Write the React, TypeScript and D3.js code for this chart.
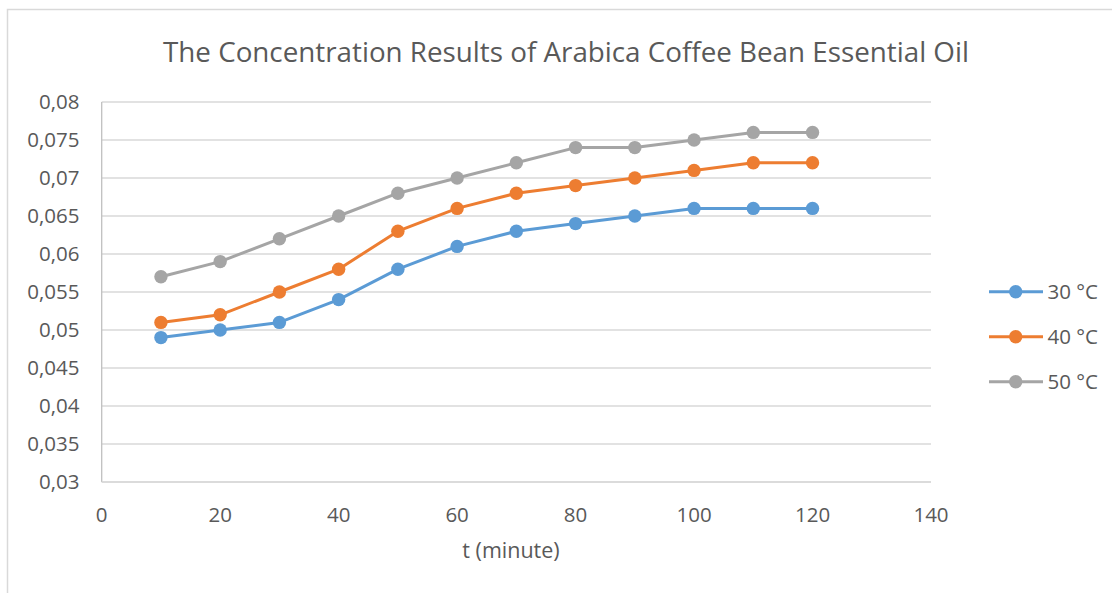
import React from "react";
import * as d3 from "d3";

// Extraction time in minutes
const minutes = [10, 20, 30, 40, 50, 60, 70, 80, 90, 100, 110, 120];

// Concentration per temperature
const conc30 = [0.049, 0.05, 0.051, 0.054, 0.058, 0.061, 0.063, 0.064, 0.065, 0.066, 0.066, 0.066];
const conc40 = [0.051, 0.052, 0.055, 0.058, 0.063, 0.066, 0.068, 0.069, 0.07, 0.071, 0.072, 0.072];
const conc50 = [0.057, 0.059, 0.062, 0.065, 0.068, 0.07, 0.072, 0.074, 0.074, 0.075, 0.076, 0.076];

const seriesNames = ["30 °C", "40 °C", "50 °C"];
const seriesColors = ["#5B9BD5", "#ED7D31", "#A5A5A5"];

const xTicks = [0, 20, 40, 60, 80, 100, 120, 140];
const yTicks = [0.03, 0.035, 0.04, 0.045, 0.05, 0.055, 0.06, 0.065, 0.07, 0.075, 0.08];

const title = "The Concentration Results of Arabica Coffee Bean Essential Oil";
const xTitle = "t (minute)";

const W = 1112;
const H = 593;
const FONT = "'Open Sans', 'DejaVu Sans', sans-serif";
const TEXT = "#595959";

export default function App() {
  const plot = { left: 101.7, right: 931, top: 102, bottom: 482 };
  const x = d3.scaleLinear().domain([0, 140]).range([plot.left, plot.right]);
  const y = d3.scaleLinear().domain([0.03, 0.08]).range([plot.bottom, plot.top]);
  const fmt = (v: number) => String(+v.toFixed(3)).replace(".", ",");

  const series = [conc30, conc40, conc50].map((vals, i) => ({
    name: seriesNames[i],
    color: seriesColors[i],
    points: vals.map((v, j) => [minutes[j], v] as [number, number]),
  }));

  const line = d3
    .line<[number, number]>()
    .x((d) => x(d[0]))
    .y((d) => y(d[1]));

  const legendY = [291.7, 336.7, 381.7];

  return (
    <svg
      width={W}
      height={H}
      style={{ position: "absolute", left: 0, top: 0, background: "#fff" }}
    >
      <rect x={0} y={0} width={W} height={H} fill="#fff" />
      {/* chart frame */}
      <path d={`M7.5,${H + 2} V9.5 H${W + 2}`} fill="none" stroke="#d9d9d9" strokeWidth={1.5} />

      <text
        x={566}
        y={61.5}
        textAnchor="middle"
        fontFamily={FONT}
        fontSize={28}
        fill={TEXT}
        textLength={806}
        lengthAdjust="spacingAndGlyphs"
      >
        {title}
      </text>

      {/* gridlines */}
      {yTicks.map((t) => (
        <line
          key={t}
          x1={plot.left}
          x2={plot.right}
          y1={y(t)}
          y2={y(t)}
          stroke="#d9d9d9"
          strokeWidth={1.3}
        />
      ))}
      {/* value axis line */}
      <line x1={plot.left} x2={plot.left} y1={plot.top} y2={plot.bottom} stroke="#bfbfbf" strokeWidth={1.3} />
      <line x1={plot.left} x2={plot.right} y1={plot.bottom} y2={plot.bottom} stroke="#d9d9d9" strokeWidth={1.3} />

      {/* y tick labels */}
      {yTicks.map((t) => (
        <text
          key={t}
          x={79.5}
          y={y(t)}
          dy="0.36em"
          textAnchor="end"
          fontFamily={FONT}
          fontSize={20.5}
          fill={TEXT}
        >
          {fmt(t)}
        </text>
      ))}

      {/* x tick labels */}
      {xTicks.map((t) => (
        <text
          key={t}
          x={x(t)}
          y={522}
          textAnchor="middle"
          fontFamily={FONT}
          fontSize={20.5}
          fill={TEXT}
        >
          {t}
        </text>
      ))}

      <text x={511} y={558} textAnchor="middle" fontFamily={FONT} fontSize={21.5} fill={TEXT}>
        {xTitle}
      </text>

      {/* series */}
      {series.map((s) => (
        <g key={s.name}>
          <path d={line(s.points) || ""} fill="none" stroke={s.color} strokeWidth={3} strokeLinejoin="round" />
          {s.points.map((p, j) => (
            <circle key={j} cx={x(p[0])} cy={y(p[1])} r={6.7} fill={s.color} />
          ))}
        </g>
      ))}

      {/* legend */}
      {series.map((s, i) => (
        <g key={s.name}>
          <line x1={989} x2={1043} y1={legendY[i]} y2={legendY[i]} stroke={s.color} strokeWidth={3} />
          <circle cx={1015.7} cy={legendY[i]} r={6.7} fill={s.color} />
          <text
            x={1047.5}
            y={legendY[i]}
            dy="0.36em"
            fontFamily={FONT}
            fontSize={20.5}
            fill={TEXT}
          >
            {s.name}
          </text>
        </g>
      ))}
    </svg>
  );
}
